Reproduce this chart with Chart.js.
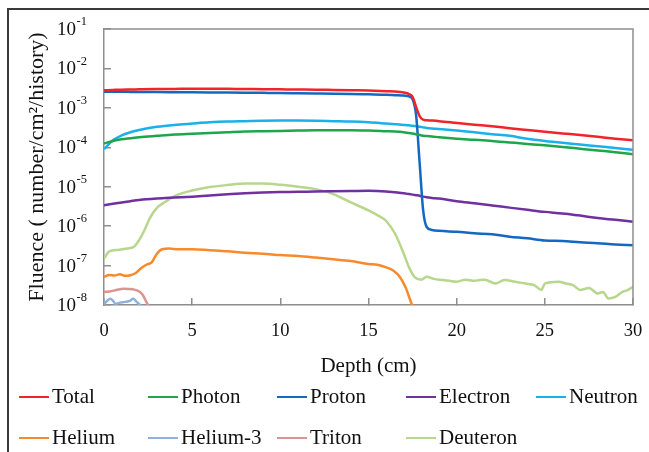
<!DOCTYPE html>
<html>
<head>
<meta charset="utf-8">
<script src="https://cdn.jsdelivr.net/npm/chart.js@4.4.1/dist/chart.umd.min.js"></script>
<style>
  html, body { margin: 0; padding: 0; background: #fff; }
  #wrap { position: relative; width: 649px; height: 452px; overflow: hidden; background: #fff; }
  #frame { position: absolute; left: 7px; top: 8px; width: 700px; height: 500px;
           border-top: 2px solid #3a3a3a; border-left: 2px solid #3a3a3a; pointer-events: none; }
  canvas { position: absolute; left: 0; top: 0; }
  .lg { position: absolute; font-family: 'Liberation Serif', 'Times New Roman', serif; font-size: 21px;
        color: #111; white-space: nowrap; line-height: 24px; }
  .lg .sw { display: inline-block; width: 30px; height: 2.5px; vertical-align: middle; margin-right: 3px; position: relative; top: -1px; }
</style>
</head>
<body>
<div id="wrap">
  <canvas id="c" width="649" height="452"></canvas>
  <div id="frame"></div>
  <div id="legend"></div>
</div>
<script>
// ---------- data ----------
const seriesNames = ['Total', 'Photon', 'Proton', 'Electron', 'Neutron', 'Helium', 'Helium-3', 'Triton', 'Deuteron'];
const seriesColors = ['#f0242a', '#1ea64c', '#1268c3', '#7030a0', '#1bb0ea', '#f98a2c', '#8eb1de', '#d99591', '#b8d68c'];

const depthMain = [0, 0.5, 1, 1.5, 2, 3, 4, 5, 6, 7, 8, 9, 10, 11, 12, 13, 14, 15, 16, 16.5, 17, 17.3, 17.5, 17.7, 17.9, 18.1, 18.3, 18.6, 19, 20, 21, 22, 23, 24, 25, 26, 27, 28, 29, 30];

const totalVals = [2.8e-3, 2.85e-3, 2.9e-3, 2.92e-3, 2.95e-3, 3.0e-3, 3.02e-3, 3.05e-3, 3.05e-3, 3.03e-3, 3.0e-3, 2.98e-3, 2.95e-3, 2.92e-3, 2.9e-3, 2.85e-3, 2.8e-3, 2.75e-3, 2.65e-3, 2.6e-3, 2.45e-3, 2.25e-3, 1.9e-3, 1.05e-3, 6.2e-4, 5.0e-4, 4.85e-4, 4.75e-4, 4.6e-4, 4.15e-4, 3.75e-4, 3.4e-4, 3.05e-4, 2.75e-4, 2.48e-4, 2.25e-4, 2.05e-4, 1.85e-4, 1.65e-4, 1.5e-4];

const photonVals = [1.25e-4, 1.45e-4, 1.6e-4, 1.7e-4, 1.8e-4, 1.95e-4, 2.1e-4, 2.2e-4, 2.3e-4, 2.4e-4, 2.5e-4, 2.55e-4, 2.6e-4, 2.65e-4, 2.7e-4, 2.7e-4, 2.7e-4, 2.65e-4, 2.55e-4, 2.5e-4, 2.4e-4, 2.3e-4, 2.25e-4, 2.15e-4, 2.05e-4, 1.97e-4, 1.92e-4, 1.88e-4, 1.8e-4, 1.65e-4, 1.55e-4, 1.45e-4, 1.33e-4, 1.22e-4, 1.12e-4, 1.02e-4, 9.2e-5, 8.3e-5, 7.5e-5, 6.7e-5];

const protonVals = [2.55e-3, 2.55e-3, 2.55e-3, 2.54e-3, 2.53e-3, 2.52e-3, 2.5e-3, 2.48e-3, 2.46e-3, 2.44e-3, 2.42e-3, 2.4e-3, 2.38e-3, 2.35e-3, 2.32e-3, 2.29e-3, 2.25e-3, 2.2e-3, 2.15e-3, 2.1e-3, 2.05e-3, 1.95e-3, 1.65e-3, 6.5e-4, 4.0e-5, 2.5e-6, 9.5e-7, 8.0e-7, 7.6e-7, 7.2e-7, 6.6e-7, 6.2e-7, 5.4e-7, 4.9e-7, 4.3e-7, 4.2e-7, 3.9e-7, 3.7e-7, 3.4e-7, 3.3e-7];

const electronVals = [3.4e-6, 3.7e-6, 4.0e-6, 4.3e-6, 4.6e-6, 5.0e-6, 5.3e-6, 5.6e-6, 6.0e-6, 6.4e-6, 6.8e-6, 7.1e-6, 7.3e-6, 7.4e-6, 7.6e-6, 7.7e-6, 7.8e-6, 7.9e-6, 7.6e-6, 7.2e-6, 6.8e-6, 6.5e-6, 6.3e-6, 6.1e-6, 5.9e-6, 5.6e-6, 5.4e-6, 5.2e-6, 5.0e-6, 4.3e-6, 3.8e-6, 3.35e-6, 2.95e-6, 2.6e-6, 2.3e-6, 2.1e-6, 1.85e-6, 1.6e-6, 1.45e-6, 1.3e-6];

const neutronVals = [9.0e-5, 1.5e-4, 2.0e-4, 2.4e-4, 2.75e-4, 3.3e-4, 3.7e-4, 4.0e-4, 4.3e-4, 4.5e-4, 4.6e-4, 4.7e-4, 4.75e-4, 4.75e-4, 4.7e-4, 4.6e-4, 4.5e-4, 4.3e-4, 4.0e-4, 3.85e-4, 3.7e-4, 3.6e-4, 3.5e-4, 3.4e-4, 3.3e-4, 3.2e-4, 3.1e-4, 3.0e-4, 2.9e-4, 2.65e-4, 2.4e-4, 2.15e-4, 1.95e-4, 1.65e-4, 1.45e-4, 1.3e-4, 1.18e-4, 1.06e-4, 9.6e-5, 8.6e-5];

const depthHelium = [0, 0.3, 0.6, 0.9, 1.2, 1.5, 1.8, 2.1, 2.4, 2.7, 3.0, 3.3, 3.7, 4.2, 5, 6, 7, 8, 9, 10, 11, 12, 13, 14, 15, 15.5, 16, 16.4, 16.8, 17.1, 17.35, 17.55];
const heliumVals = [5.2e-8, 5.8e-8, 5.6e-8, 6.0e-8, 5.5e-8, 5.7e-8, 6.5e-8, 8.5e-8, 1.05e-7, 1.2e-7, 2.0e-7, 2.6e-7, 2.7e-7, 2.6e-7, 2.6e-7, 2.45e-7, 2.3e-7, 2.1e-7, 2.0e-7, 1.85e-7, 1.75e-7, 1.6e-7, 1.45e-7, 1.3e-7, 1.1e-7, 1.05e-7, 9.0e-8, 7.5e-8, 5.0e-8, 2.8e-8, 1.4e-8, 8.0e-9];

const depthHelium3 = [0, 0.2, 0.35, 0.5, 0.65, 0.9, 1.2, 1.5, 1.65, 1.85, 2.1];
const helium3Vals = [1.05e-8, 1.3e-8, 1.45e-8, 1.3e-8, 1.08e-8, 1.15e-8, 1.2e-8, 1.3e-8, 1.45e-8, 1.2e-8, 9.5e-9];

const depthTriton = [0, 0.3, 0.7, 1.1, 1.65, 2.0, 2.2, 2.4, 2.55];
const tritonVals = [2.15e-8, 2.2e-8, 2.4e-8, 2.6e-8, 2.5e-8, 2.2e-8, 1.8e-8, 1.2e-8, 9.0e-9];

const depthDeuteron = [0, 0.3, 0.8, 1.3, 1.7, 2.0, 2.3, 2.6, 3.0, 3.5, 4, 5, 6, 7, 8, 9, 10, 11, 12, 13, 14, 15, 15.5, 16, 16.5, 17, 17.3, 17.6, 18, 18.3, 18.7, 19.2, 19.6, 20, 20.5, 21, 21.3, 21.6, 22.2, 22.7, 23.3, 23.9, 24.4, 24.8, 25, 25.8, 26.2, 26.6, 27, 27.5, 28, 28.3, 28.6, 29, 29.4, 29.7, 30];
const deuteronVals = [1.5e-7, 2.3e-7, 2.5e-7, 2.7e-7, 3.0e-7, 4.5e-7, 8.0e-7, 1.6e-6, 2.9e-6, 4.2e-6, 5.8e-6, 8.0e-6, 9.8e-6, 1.1e-5, 1.2e-5, 1.2e-5, 1.12e-5, 1.0e-5, 8.7e-6, 6.5e-6, 4.0e-6, 2.5e-6, 1.9e-6, 1.35e-6, 6.5e-7, 2.0e-7, 9.0e-8, 5.2e-8, 4.4e-8, 5.2e-8, 4.6e-8, 4.3e-8, 4.1e-8, 3.9e-8, 4.4e-8, 4.1e-8, 4.3e-8, 4.4e-8, 3.5e-8, 4.3e-8, 3.9e-8, 3.5e-8, 3.2e-8, 2.4e-8, 3.5e-8, 3.9e-8, 3.5e-8, 3.2e-8, 2.4e-8, 2.7e-8, 1.95e-8, 2.15e-8, 1.46e-8, 1.6e-8, 2.15e-8, 2.4e-8, 2.9e-8];

const xTickValues = [0, 5, 10, 15, 20, 25, 30];
const yTickValues = [1e-8, 1e-7, 1e-6, 1e-5, 1e-4, 1e-3, 1e-2, 1e-1];
const yTickBase = '10';
const yTickExponents = ['-8', '-7', '-6', '-5', '-4', '-3', '-2', '-1'];

// ---------- build ----------
const pairs = (xs, ys) => xs.map((x, i) => ({ x: x, y: ys[i] }));
const seriesData = [
  pairs(depthMain, totalVals),
  pairs(depthMain, photonVals),
  pairs(depthMain, protonVals),
  pairs(depthMain, electronVals),
  pairs(depthMain, neutronVals),
  pairs(depthHelium, heliumVals),
  pairs(depthHelium3, helium3Vals),
  pairs(depthTriton, tritonVals),
  pairs(depthDeuteron, deuteronVals)
];

const FONT = "'Liberation Serif', 'Times New Roman', serif";
const GRID = '#8e8e8e';

const datasets = seriesNames.map((name, i) => ({
  label: name,
  data: seriesData[i],
  borderColor: seriesColors[i],
  backgroundColor: seriesColors[i],
  borderWidth: 2.5,
  pointRadius: 0,
  cubicInterpolationMode: 'monotone',
  fill: false,
  order: i
}));

// plot frame (top and right edges) + power-of-ten tick labels on the y axis
const boxPlugin = {
  id: 'box',
  afterDraw(chart) {
    const a = chart.chartArea, ctx = chart.ctx;
    ctx.save();
    ctx.strokeStyle = GRID;
    ctx.lineWidth = 1.5;
    ctx.beginPath();
    ctx.moveTo(a.left, a.top);
    ctx.lineTo(a.right, a.top);
    ctx.lineTo(a.right, a.bottom);
    ctx.stroke();

    const ys = chart.scales.y;
    const rightEdge = a.left - 17;
    ctx.fillStyle = '#111';
    ctx.textBaseline = 'middle';
    yTickValues.forEach((v, i) => {
      const py = ys.getPixelForValue(v);
      ctx.font = '12.5px ' + FONT;
      const ew = ctx.measureText(yTickExponents[i]).width;
      ctx.textAlign = 'left';
      ctx.fillText(yTickExponents[i], rightEdge - ew, py - 7);
      ctx.font = '19px ' + FONT;
      ctx.textAlign = 'right';
      ctx.fillText(yTickBase, rightEdge - ew - 0.5, py + 1);
    });
    ctx.restore();
  }
};

const chart = new Chart(document.getElementById('c'), {
  type: 'line',
  data: { datasets: datasets },
  options: {
    responsive: false,
    animation: false,
    layout: { padding: { left: 0, top: 29, right: 16, bottom: 72 } },
    plugins: { legend: { display: false }, tooltip: { enabled: false } },
    scales: {
      x: {
        type: 'linear',
        min: 0, max: 30,
        afterBuildTicks(scale) { scale.ticks = xTickValues.map(v => ({ value: v })); },
        afterFit(scale) { scale.height = 75; scale.paddingLeft = 9; scale.paddingRight = 9; },
        ticks: { font: { family: FONT, size: 18.5 }, color: '#111', padding: 22, maxRotation: 0 },
        grid: { drawOnChartArea: false, drawTicks: true, tickLength: -7, color: GRID, lineWidth: 1.5 },
        border: { display: true, color: GRID, width: 1.5 },
        title: { display: true, text: 'Depth (cm)', font: { family: FONT, size: 21 }, color: '#111', padding: { top: 0, bottom: 1 } }
      },
      y: {
        type: 'logarithmic',
        min: 1e-8, max: 1e-1,
        afterBuildTicks(scale) { scale.ticks = yTickValues.map(v => ({ value: v })); },
        afterFit(scale) { scale.width = 104; scale.paddingTop = 0; scale.paddingBottom = 0; },
        ticks: { display: false },
        grid: { drawOnChartArea: false, drawTicks: true, tickLength: -7, color: GRID, lineWidth: 1.5 },
        border: { display: true, color: GRID, width: 1.5 },
        title: { display: true, text: 'Fluence ( number/cm\u00B2/history)', font: { family: FONT, size: 22 }, color: '#111', padding: { top: 24, bottom: 0 } }
      }
    }
  },
  plugins: [boxPlugin]
});

// ---------- legend (HTML, built from the datasets) ----------
const legendCols = [19, 148, 277, 406, 536];
const legendRows = [396, 437];
const lg = document.getElementById('legend');
chart.data.datasets.forEach((ds, i) => {
  const d = document.createElement('div');
  d.className = 'lg';
  d.style.left = legendCols[i % 5] + 'px';
  d.style.top = (legendRows[Math.floor(i / 5)] - 12) + 'px';
  const sw = document.createElement('span');
  sw.className = 'sw';
  sw.style.background = ds.borderColor;
  d.appendChild(sw);
  d.appendChild(document.createTextNode(ds.label));
  lg.appendChild(d);
});
</script>
</body>
</html>
